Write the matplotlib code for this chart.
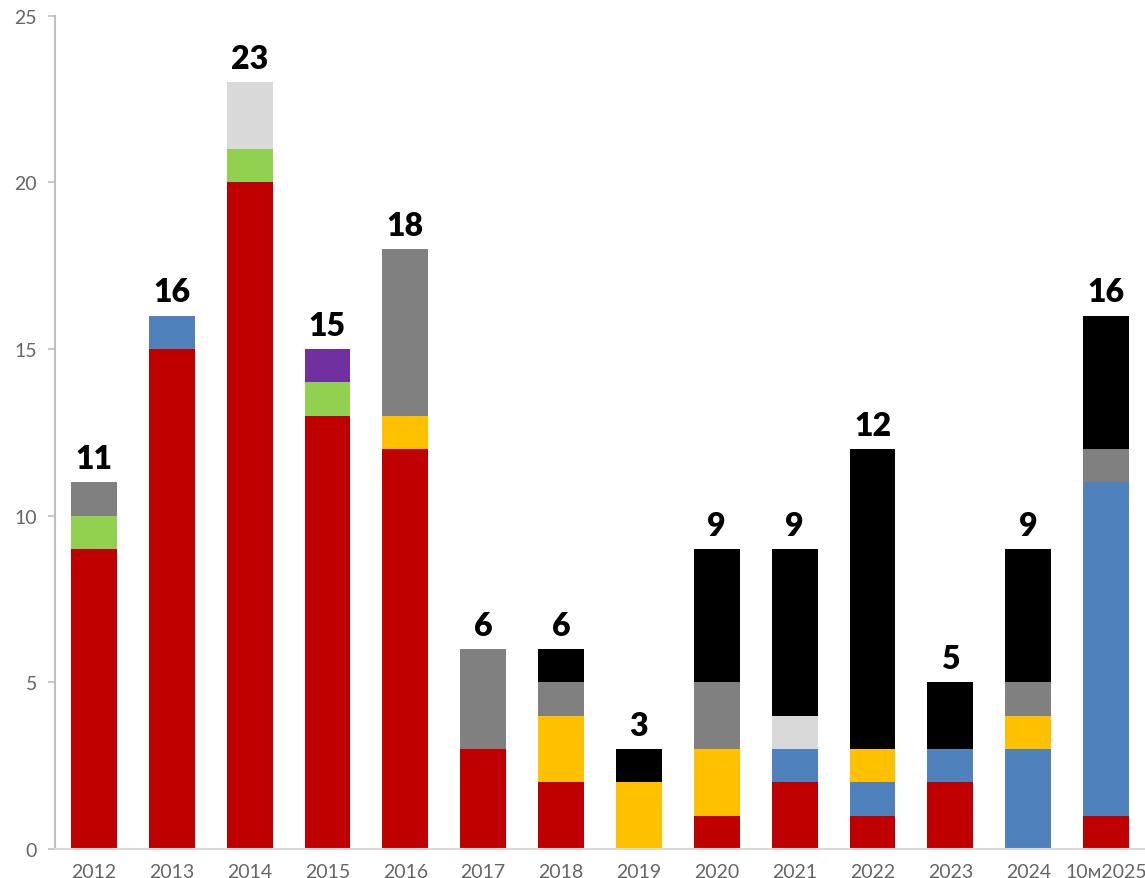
import numpy as np
import matplotlib.pyplot as plt

# categories
years = ["2012", "2013", "2014", "2015", "2016", "2017", "2018", "2019",
         "2020", "2021", "2022", "2023", "2024", "10м2025"]

# stacked series, bottom to top
red = [9, 15, 20, 13, 12, 3, 2, 0, 1, 2, 1, 2, 0, 1]
blue = [0, 1, 0, 0, 0, 0, 0, 0, 0, 1, 1, 1, 3, 10]
yellow = [0, 0, 0, 0, 1, 0, 2, 2, 2, 0, 1, 0, 1, 0]
green = [1, 0, 1, 1, 0, 0, 0, 0, 0, 0, 0, 0, 0, 0]
purple = [0, 0, 0, 1, 0, 0, 0, 0, 0, 0, 0, 0, 0, 0]
light_gray = [0, 0, 2, 0, 0, 0, 0, 0, 0, 1, 0, 0, 0, 0]
gray = [1, 0, 0, 0, 5, 3, 1, 0, 2, 0, 0, 0, 1, 1]
black = [0, 0, 0, 0, 0, 0, 1, 1, 4, 5, 9, 2, 4, 4]

series = [red, blue, yellow, green, purple, light_gray, gray, black]
colors = ["#C00000", "#4F81BD", "#FFC000", "#92D050", "#7030A0",
          "#D9D9D9", "#808080", "#000000"]

fig = plt.figure(figsize=(11.45, 8.79), dpi=100)
ax = fig.add_axes([0.048, 0.033, 0.952, 0.948])

x = np.arange(len(years))
bottom = np.zeros(len(years))
for vals, c in zip(series, colors):
    vals = np.array(vals, dtype=float)
    ax.bar(x, vals, width=0.59, bottom=bottom, color=c, linewidth=0)
    bottom += vals

# totals above bars
for xi, tot in zip(x, bottom):
    ax.text(xi, tot + 0.28, str(int(tot)), ha="center", va="bottom",
            fontsize=23, fontweight="heavy", family="Lato", color="black")

ax.set_xlim(-0.5, len(years) - 0.5)
ax.set_ylim(0, 25)
ax.set_yticks([0, 5, 10, 15, 20, 25])
ax.set_xticks(x)
ax.set_xticklabels(years)

for s in ["top", "right"]:
    ax.spines[s].set_visible(False)
ax.spines["left"].set_color("#BFBFBF")
ax.spines["left"].set_linewidth(1.5)
ax.spines["bottom"].set_color("#D9D9D9")
ax.spines["bottom"].set_linewidth(1.5)

ax.tick_params(axis="y", color="#BFBFBF", length=5, width=1.2, pad=8,
               labelcolor="#595959", labelsize=14)
ax.tick_params(axis="x", length=0, pad=10, labelcolor="#595959", labelsize=14)
for lbl in ax.get_xticklabels() + ax.get_yticklabels():
    lbl.set_family("Lato")
    lbl.set_color("#666666")

fig.savefig("out.png", dpi=100)
